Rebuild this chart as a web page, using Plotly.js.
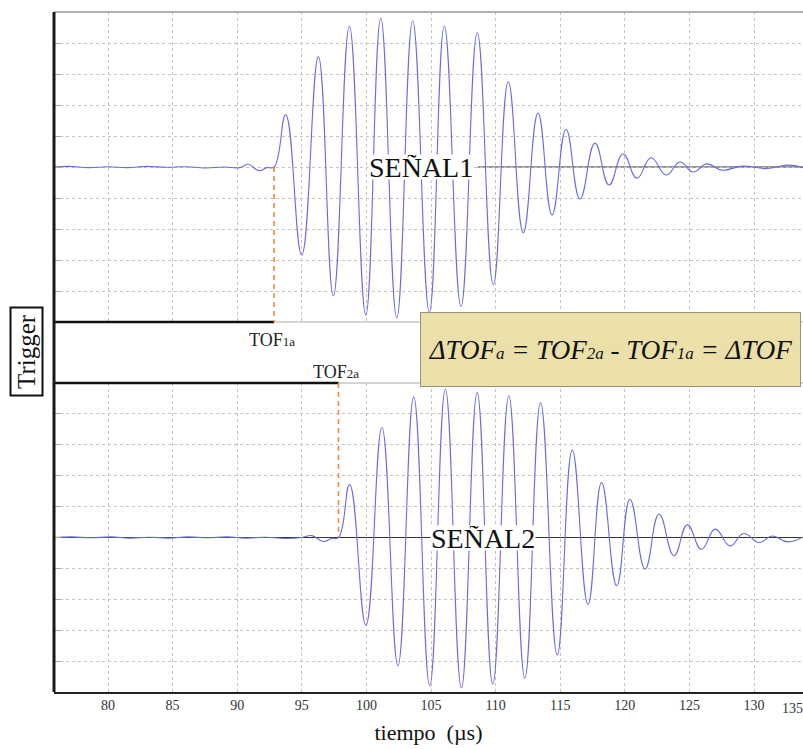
<!DOCTYPE html>
<html>
<head>
<meta charset="utf-8">
<script src="https://cdn.plot.ly/plotly-3.0.1.min.js"></script>
<style>html,body{margin:0;padding:0;background:#fff;}#chart{width:803px;height:749px;}</style>
</head>
<body>
<div id="chart"></div>
<script>
// ---- data ----
const xRange = [75.82, 133.79];
const tickVals = [80, 85, 90, 95, 100, 105, 110, 115, 120, 125, 130];
const tickText = ["80", "85", "90", "95", "100", "105", "110", "115", "120", "125", "130"];
const lastTickLabel = "135";

const TOF1a = 92.85;
const TOF2a = 97.84;

// SEÑAL1 (top): time (µs) and amplitude (grid units)
const sig1T = [75.82, 77.0, 78.5, 80.0, 81.5, 83.0, 84.5, 86.0, 87.5, 89.0, 90.2, 90.84, 91.69, 92.3, 92.85,
  93.75, 94.99, 96.28, 97.44, 98.68, 99.95, 101.11, 102.35, 103.58, 104.87, 106.03, 107.32, 108.58, 109.82,
  110.98, 112.14, 113.28, 114.37, 115.45, 116.53, 117.69, 118.78, 119.86, 120.94, 122.03, 123.19, 124.27,
  125.28, 126.36, 127.52, 129.1, 131.0, 132.6, 133.79];
const sig1V = [0, 0.02, -0.02, 0.01, -0.02, 0.02, -0.01, 0.01, -0.03, 0.0, -0.02, 0.09, -0.12, -0.02, 0.0,
  1.68, -2.84, 3.56, -4.16, 4.55, -4.77, 4.8, -4.87, 4.72, -4.68, 4.55, -4.5, 4.33, -3.8,
  2.75, -2.12, 1.74, -1.55, 1.22, -1.03, 0.77, -0.58, 0.42, -0.36, 0.3, -0.26, 0.16,
  -0.16, 0.1, -0.1, 0.03, -0.05, 0.06, -0.02];

// SEÑAL2 (bottom)
const sig2T = [75.82, 77.2, 78.7, 80.2, 81.7, 83.2, 84.7, 86.2, 87.7, 89.2, 90.7, 92.2, 93.7, 95.0, 95.78, 96.68, 97.3, 97.84,
  98.70, 99.96, 101.2, 102.44, 103.66, 104.9, 106.11, 107.35, 108.57, 109.78, 111.02, 112.26, 113.48, 114.77,
  115.93, 117.15, 118.2, 119.37, 120.4, 121.57, 122.65, 123.81, 124.84, 125.93, 126.99, 128.15, 129.19, 130.4,
  131.4, 132.6, 133.79];
const sig2V = [0, 0.02, -0.01, 0.02, -0.02, 0.01, -0.02, 0.02, -0.01, 0.02, -0.02, 0.01, -0.03, 0.0, 0.06, -0.13, -0.03, 0.0,
  1.71, -2.84, 3.56, -4.15, 4.55, -4.8, 4.8, -4.87, 4.69, -4.75, 4.59, -4.56, 4.37, -3.8,
  2.83, -2.16, 1.78, -1.56, 1.24, -1.02, 0.76, -0.59, 0.41, -0.38, 0.27, -0.27, 0.13, -0.16,
  0.05, -0.14, 0.02];

const label1 = "SEÑAL1";
const label2 = "SEÑAL2";
const label1X = 104.19;
const label2X = 109.06;
const label1LineStart = 108.6;

// ---- layout ----
const serif = "Liberation Serif, Times New Roman, serif";
const sigColor = "#6a6ae0";
const gridColor = "#c4c4c4";
const orange = "#f08a3c";
const topLow = 0.5441, botHigh = 0.4544;

const traces = [
  {x: sig1T, y: sig1V, xaxis: "x", yaxis: "y2", type: "scatter", mode: "lines",
   line: {color: sigColor, width: 1.1, shape: "spline", smoothing: 1.3}, hoverinfo: "skip", name: label1},
  {x: sig2T, y: sig2V, xaxis: "x", yaxis: "y", type: "scatter", mode: "lines",
   line: {color: sigColor, width: 1.1, shape: "spline", smoothing: 1.3}, hoverinfo: "skip", name: label2}
];

const yCommon = {range: [-5, 5], dtick: 1, tick0: 0, showticklabels: false, showgrid: true,
  gridcolor: gridColor, griddash: "dot", gridwidth: 1, ticks: "inside", ticklen: 7, tickcolor: "#aaa",
  showline: false, fixedrange: true};

const layout = {
  width: 803, height: 749,
  margin: {l: 54, r: 0, t: 12, b: 57},
  paper_bgcolor: "#fff", plot_bgcolor: "#fff",
  showlegend: false,
  xaxis: {range: xRange, tickvals: tickVals, ticktext: tickText, showgrid: true, gridcolor: gridColor,
    griddash: "dot", zeroline: false, showline: true, linecolor: "#222", linewidth: 1.5, ticks: "",
    tickfont: {family: serif, size: 14, color: "#333"}, anchor: "y",
    title: {text: "tiempo\u00a0\u00a0(µs)", font: {family: serif, size: 22, color: "#111"}, standoff: 12}},
  yaxis: Object.assign({}, yCommon, {domain: [0, botHigh], zeroline: true, zerolinecolor: "#333", zerolinewidth: 1}),
  yaxis2: Object.assign({}, yCommon, {domain: [topLow, 1], zeroline: false}),
  shapes: [
    {type: "line", xref: "paper", yref: "paper", x0: 0, x1: 1, y0: 1, y1: 1, line: {color: "#999", width: 1.5}, layer: "above"},
    {type: "line", xref: "paper", yref: "paper", x0: 0, x1: 1, y0: topLow, y1: topLow, line: {color: "#aaa", width: 1}, layer: "above"},
    {type: "line", xref: "paper", yref: "paper", x0: 0, x1: 1, y0: botHigh, y1: botHigh, line: {color: "#aaa", width: 1}, layer: "above"},
    {type: "line", xref: "x", yref: "y2", x0: label1LineStart, x1: xRange[1], y0: 0, y1: 0, line: {color: "#333", width: 1}, layer: "below"},
    {type: "line", xref: "x", yref: "paper", x0: xRange[0], x1: TOF1a, y0: topLow, y1: topLow, line: {color: "#111", width: 2.5}, layer: "above"},
    {type: "line", xref: "x", yref: "paper", x0: xRange[0], x1: TOF2a, y0: botHigh, y1: botHigh, line: {color: "#111", width: 2.5}, layer: "above"},
    {type: "line", xref: "x", yref: "y2", x0: TOF1a, x1: TOF1a, y0: 0, y1: -5, line: {color: orange, width: 1.6, dash: "5px,4px"}, layer: "above"},
    {type: "line", xref: "x", yref: "y", x0: TOF2a, x1: TOF2a, y0: 5, y1: 0, line: {color: orange, width: 1.6, dash: "5px,4px"}, layer: "above"},
    {type: "line", xref: "paper", yref: "paper", x0: 0, x1: 0, y0: 0, y1: 1, line: {color: "#1a1a1a", width: 3}, layer: "above"}
  ],
  annotations: [
    {xref: "x", yref: "y2", x: label1X, y: 0, xanchor: "center", yanchor: "middle", text: label1, showarrow: false,
     bgcolor: "#fff", borderpad: 0, height: 24, font: {family: serif, size: 28, color: "#111"}},
    {xref: "x", yref: "y", x: label2X, y: 0, xanchor: "center", yanchor: "middle", text: label2, showarrow: false,
     bgcolor: "#fff", borderpad: 0, height: 24, font: {family: serif, size: 28, color: "#111"}},
    {xref: "x", yref: "paper", x: TOF1a, y: 0.5176, xanchor: "center", yanchor: "middle", xshift: -2,
     text: "TOF<span style=\"font-size:13px\">1a</span>", showarrow: false, font: {family: serif, size: 18, color: "#222"}},
    {xref: "x", yref: "paper", x: TOF2a, y: 0.4706, xanchor: "center", yanchor: "middle", xshift: -3,
     text: "TOF<span style=\"font-size:13px\">2a</span>", showarrow: false, font: {family: serif, size: 18, color: "#222"}},
    {xref: "paper", yref: "paper", x: 0.743, y: 0.5037, xanchor: "center", yanchor: "middle", width: 377, height: 71,
     borderpad: 1, borderwidth: 1, bordercolor: "#9a9276", bgcolor: "#ebe0a9", showarrow: false,
     text: "<i>ΔTOF<span style=\"font-size:17px\">a</span> = TOF<span style=\"font-size:17px\">2a</span> - TOF<span style=\"font-size:17px\">1a</span> = ΔTOF</i>",
     font: {family: serif, size: 27, color: "#111"}},
    {xref: "paper", yref: "paper", x: -0.0367, y: 0.5, xanchor: "center", yanchor: "middle", text: "Trigger", textangle: -90,
     showarrow: false, width: 84, height: 28, borderpad: 1, borderwidth: 2, bordercolor: "#111", bgcolor: "#fff",
     font: {family: serif, size: 25, color: "#111"}},
    {xref: "paper", yref: "paper", x: 0.9866, y: 0, xanchor: "center", yanchor: "top", yshift: -7, text: lastTickLabel,
     showarrow: false, font: {family: serif, size: 14, color: "#333"}}
  ]
};

Plotly.newPlot("chart", traces, layout, {staticPlot: true, displayModeBar: false});
</script>
</body>
</html>
